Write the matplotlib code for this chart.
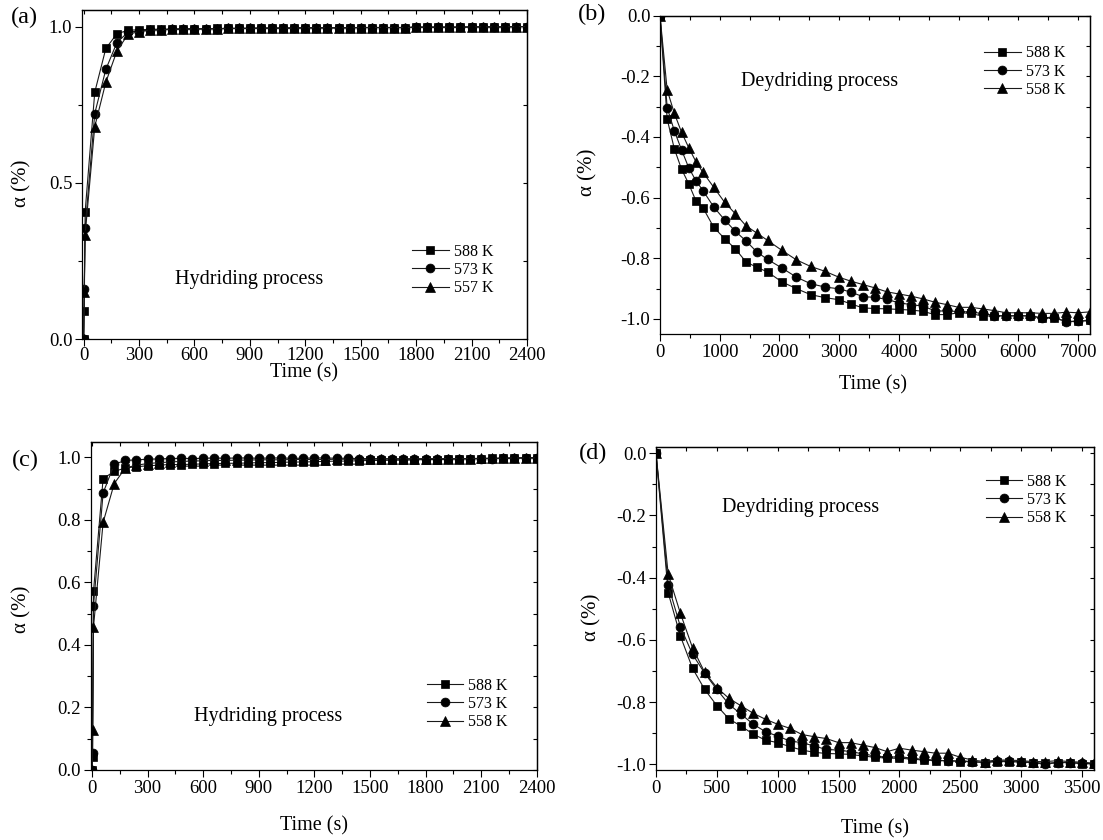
import matplotlib
matplotlib.use("Agg")
import matplotlib.pyplot as plt
from matplotlib.ticker import MultipleLocator, FormatStrFormatter

plt.rcParams['font.family'] = ['Liberation Serif', 'DejaVu Serif']
plt.rcParams['axes.unicode_minus'] = False

# ---------------- data ----------------
# (a) hydriding, 588 / 573 / 557 K
time_a = [0, 3, 8, 60, 120, 180, 240, 300, 360, 420, 480, 540, 600, 660, 720,
          780, 840, 900, 960, 1020, 1080, 1140, 1200, 1260, 1320, 1380, 1440,
          1500, 1560, 1620, 1680, 1740, 1800, 1860, 1920, 1980, 2040, 2100,
          2160, 2220, 2280, 2340, 2400]
a_588 = [0.0, 0.092, 0.408, 0.790, 0.930, 0.977, 0.988, 0.990, 0.991, 0.992,
         0.992, 0.993, 0.993, 0.993, 0.994, 0.994, 0.994, 0.995, 0.995, 0.995,
         0.995, 0.996, 0.996, 0.996, 0.996, 0.996, 0.997, 0.997, 0.997, 0.997,
         0.997, 0.997, 0.998, 0.998, 0.998, 0.998, 0.998, 0.999, 0.999, 0.999,
         0.999, 1.000, 1.000]
a_573 = [0.0, 0.160, 0.356, 0.722, 0.863, 0.949, 0.982, 0.986, 0.989, 0.990,
         0.991, 0.992, 0.992, 0.993, 0.993, 0.994, 0.994, 0.994, 0.995, 0.995,
         0.995, 0.995, 0.996, 0.996, 0.996, 0.996, 0.996, 0.997, 0.997, 0.997,
         0.997, 0.997, 0.998, 0.998, 0.998, 0.998, 0.998, 0.999, 0.999, 0.999,
         0.999, 1.000, 1.000]
a_557 = [0.0, 0.150, 0.335, 0.680, 0.822, 0.922, 0.975, 0.984, 0.988, 0.990,
         0.991, 0.992, 0.992, 0.993, 0.993, 0.994, 0.994, 0.994, 0.995, 0.995,
         0.995, 0.995, 0.996, 0.996, 0.996, 0.996, 0.996, 0.997, 0.997, 0.997,
         0.997, 0.997, 0.998, 0.998, 0.998, 0.998, 0.998, 0.999, 0.999, 0.999,
         0.999, 1.000, 1.000]
labels_a = ['588 K', '573 K', '557 K']

# (b) dehydriding, 588 / 573 / 558 K
time_b = [0, 120, 240, 360, 480, 600, 720, 900, 1080, 1260, 1440, 1620, 1800,
          2040, 2280, 2520, 2760, 3000, 3200, 3400, 3600, 3800, 4000, 4200,
          4400, 4600, 4800, 5000, 5200, 5400, 5600, 5800, 6000, 6200, 6400,
          6600, 6800, 7000, 7200]
b_588 = [0.0, -0.341, -0.439, -0.506, -0.554, -0.610, -0.634, -0.698, -0.735,
         -0.769, -0.812, -0.830, -0.845, -0.878, -0.900, -0.920, -0.930, -0.937,
         -0.951, -0.964, -0.966, -0.967, -0.969, -0.971, -0.975, -0.986, -0.986,
         -0.980, -0.982, -0.991, -0.990, -0.990, -0.990, -0.990, -0.997, -0.998,
         -1.008, -1.008, -1.005]
b_573 = [0.0, -0.303, -0.380, -0.442, -0.501, -0.544, -0.577, -0.631, -0.673,
         -0.711, -0.743, -0.779, -0.804, -0.832, -0.862, -0.884, -0.895, -0.901,
         -0.912, -0.927, -0.929, -0.936, -0.947, -0.953, -0.958, -0.973, -0.975,
         -0.975, -0.978, -0.982, -0.989, -0.991, -0.989, -0.991, -0.997, -0.994,
         -1.010, -1.008, -1.005]
b_558 = [0.0, -0.245, -0.322, -0.384, -0.435, -0.481, -0.517, -0.566, -0.615,
         -0.653, -0.693, -0.717, -0.741, -0.774, -0.805, -0.827, -0.843, -0.863,
         -0.876, -0.887, -0.898, -0.911, -0.918, -0.925, -0.934, -0.945, -0.953,
         -0.962, -0.962, -0.967, -0.973, -0.980, -0.980, -0.980, -0.982, -0.982,
         -0.978, -0.980, -0.977]
labels_b = ['588 K', '573 K', '558 K']

# (c) hydriding, 588 / 573 / 558 K
time_c = time_a
c_588 = [0.0, 0.043, 0.571, 0.932, 0.955, 0.966, 0.970, 0.973, 0.975, 0.977,
         0.977, 0.978, 0.979, 0.980, 0.981, 0.981, 0.982, 0.983, 0.983, 0.984,
         0.985, 0.985, 0.986, 0.987, 0.988, 0.988, 0.989, 0.990, 0.990, 0.991,
         0.991, 0.992, 0.993, 0.993, 0.994, 0.995, 0.995, 0.996, 0.997, 0.997,
         0.998, 0.999, 0.999]
c_573 = [0.0, 0.055, 0.525, 0.886, 0.978, 0.990, 0.992, 0.994, 0.995, 0.996,
         0.997, 0.996, 0.997, 0.998, 0.997, 0.998, 0.998, 0.997, 0.998, 0.998,
         0.997, 0.997, 0.998, 0.998, 0.997, 0.997, 0.996, 0.996, 0.996, 0.995,
         0.995, 0.995, 0.995, 0.995, 0.995, 0.996, 0.996, 0.996, 0.996, 0.997,
         0.997, 0.998, 0.998]
c_558 = [0.0, 0.128, 0.457, 0.792, 0.916, 0.966, 0.975, 0.980, 0.983, 0.985,
         0.987, 0.988, 0.989, 0.990, 0.990, 0.991, 0.991, 0.992, 0.992, 0.992,
         0.993, 0.993, 0.993, 0.993, 0.994, 0.994, 0.994, 0.994, 0.995, 0.995,
         0.995, 0.995, 0.996, 0.996, 0.996, 0.996, 0.996, 0.997, 0.997, 0.997,
         0.998, 0.998, 0.998]
labels_c = ['588 K', '573 K', '558 K']

# (d) dehydriding, 588 / 573 / 558 K
time_d = [0, 100, 200, 300, 400, 500, 600, 700, 800, 900, 1000, 1100, 1200,
          1300, 1400, 1500, 1600, 1700, 1800, 1900, 2000, 2100, 2200, 2300,
          2400, 2500, 2600, 2700, 2800, 2900, 3000, 3100, 3200, 3300, 3400,
          3500, 3600]
d_588 = [0.0, -0.448, -0.587, -0.691, -0.759, -0.811, -0.854, -0.877, -0.903,
         -0.922, -0.930, -0.943, -0.954, -0.961, -0.965, -0.966, -0.968, -0.973,
         -0.977, -0.980, -0.980, -0.983, -0.986, -0.988, -0.988, -0.991, -0.991,
         -0.994, -0.991, -0.991, -0.993, -0.994, -0.996, -0.994, -0.994, -0.998,
         -0.998]
d_573 = [0.0, -0.423, -0.557, -0.646, -0.707, -0.759, -0.807, -0.839, -0.871,
         -0.895, -0.909, -0.925, -0.930, -0.941, -0.952, -0.954, -0.959, -0.966,
         -0.973, -0.977, -0.975, -0.980, -0.984, -0.986, -0.989, -0.988, -0.991,
         -0.994, -0.989, -0.989, -0.991, -0.994, -1.000, -0.994, -0.994, -0.996,
         -0.998]
d_558 = [0.0, -0.388, -0.514, -0.625, -0.704, -0.753, -0.788, -0.812, -0.836,
         -0.855, -0.871, -0.884, -0.904, -0.911, -0.917, -0.930, -0.930, -0.938,
         -0.946, -0.959, -0.948, -0.954, -0.959, -0.964, -0.964, -0.977, -0.986,
         -0.991, -0.986, -0.986, -0.988, -0.991, -0.991, -0.988, -0.991, -0.993,
         -0.996]
labels_d = ['588 K', '573 K', '558 K']

# ---------------- figure ----------------
W, H = 1103, 840
fig = plt.figure(figsize=(W / 100, H / 100), dpi=100)


def box(l, t, r, b):
    return [l / W, 1 - b / H, (r - l) / W, (b - t) / H]


def fpos(x, y):
    return (x / W, 1 - y / H)


MARKERS = [('s', 5.6), ('o', 6.4), ('^', 7.0)]


def draw(ax, t, series, labels):
    for (m, ms), y, lab in zip(MARKERS, series, labels):
        ax.plot(t, y, color='#1a1a1a', lw=0.8, marker=m, ms=ms,
                mfc='black', mec='black', mew=0.5, label=lab)


def style(ax, xlim, ylim, xmaj, xmin, ymaj, ymin, yfmt, xpad=2):
    ax.set_xlim(*xlim)
    ax.set_ylim(*ylim)
    ax.xaxis.set_major_locator(MultipleLocator(xmaj))
    ax.xaxis.set_minor_locator(MultipleLocator(xmin))
    ax.yaxis.set_major_locator(MultipleLocator(ymaj))
    ax.yaxis.set_minor_locator(MultipleLocator(ymin))
    ax.yaxis.set_major_formatter(FormatStrFormatter(yfmt))
    ax.tick_params(which='both', direction='out', labelsize=13.5, width=0.8,
                   pad=2)
    ax.tick_params(axis='x', which='both', pad=xpad)
    ax.tick_params(which='major', length=5)
    ax.tick_params(which='minor', length=3)
    for s in ax.spines.values():
        s.set_linewidth(0.9)
    # inward ticks on the opposite spines
    sx = ax.secondary_xaxis('top')
    sx.xaxis.set_major_locator(MultipleLocator(xmaj))
    sx.xaxis.set_minor_locator(MultipleLocator(xmin))
    sx.tick_params(which='both', direction='in', labeltop=False, width=0.8,
                   length=3)
    sy = ax.secondary_yaxis('right')
    sy.yaxis.set_major_locator(MultipleLocator(ymaj))
    sy.yaxis.set_minor_locator(MultipleLocator(ymin))
    sy.tick_params(which='both', direction='in', labelright=False, width=0.8,
                   length=3)
    for s in list(sx.spines.values()) + list(sy.spines.values()):
        s.set_linewidth(0.9)


def labels(ax, xl_pos, yl_pos):
    ax.set_xlabel('Time (s)', fontsize=14.5)
    ax.xaxis.set_label_coords(*fpos(*xl_pos), transform=fig.transFigure)
    ax.xaxis.label.set_va('center')
    ax.set_ylabel('α (%)', fontsize=15)
    ax.yaxis.set_label_coords(*fpos(*yl_pos), transform=fig.transFigure)
    ax.yaxis.label.set_va('center')


def legend(ax, left, ymid):
    ax.legend(loc='center left', bbox_to_anchor=fpos(left, ymid),
              bbox_transform=fig.transFigure, frameon=False, fontsize=11.5,
              handlelength=2.3, handletextpad=0.3, labelspacing=0.15,
              borderpad=0, borderaxespad=0, numpoints=1)


# (a)
ax_a = fig.add_axes(box(82, 10, 527, 339.3))
draw(ax_a, time_a, [a_588, a_573, a_557], labels_a)
style(ax_a, (-9, 2400), (0, 1.053), 300, 150, 0.5, 0.25, '%.1f', xpad=0.5)
labels(ax_a, (304, 373), (22, 183))
legend(ax_a, 412, 270)
ax_a.text(894, 0.19, 'Hydriding process', ha='center', va='center',
          fontsize=14.5)

# (b)
ax_b = fig.add_axes(box(660, 15.7, 1090, 334))
draw(ax_b, time_b, [b_588, b_573, b_558], labels_b)
style(ax_b, (0, 7200), (-1.05, 0.0), 1000, 500, 0.2, 0.1, '%.1f')
labels(ax_b, (873, 385), (588, 172))
legend(ax_b, 984, 71.5)
ax_b.text(2664, -0.217, 'Deydriding process', ha='center', va='center',
          fontsize=14.5)

# (c)
ax_c = fig.add_axes(box(90.7, 441.7, 536.7, 770))
draw(ax_c, time_c, [c_588, c_573, c_558], labels_c)
style(ax_c, (-7, 2400), (0, 1.05), 300, 150, 0.2, 0.1, '%.1f')
labels(ax_c, (314, 826), (22, 609))
legend(ax_c, 426.7, 704)
ax_c.text(950, 0.171, 'Hydriding process', ha='center', va='center',
          fontsize=14.5)

# (d)
ax_d = fig.add_axes(box(656, 446.7, 1094, 770))
draw(ax_d, time_d, [d_588, d_573, d_558], labels_d)
style(ax_d, (0, 3600), (-1.018, 0.021), 500, 250, 0.2, 0.1, '%.1f')
labels(ax_d, (875, 829), (592, 617))
legend(ax_d, 985.7, 500)
ax_d.text(1192, -0.174, 'Deydriding process', ha='center', va='center',
          fontsize=14.5)

# panel letters
for txt, (x, y) in [('(a)', (24, 17)), ('(b)', (592, 14)),
                    ('(c)', (25, 460)), ('(d)', (593, 453))]:
    fig.text(*fpos(x, y), txt, ha='center', va='center', fontsize=17.5)

fig.savefig('out.png', dpi=100)
